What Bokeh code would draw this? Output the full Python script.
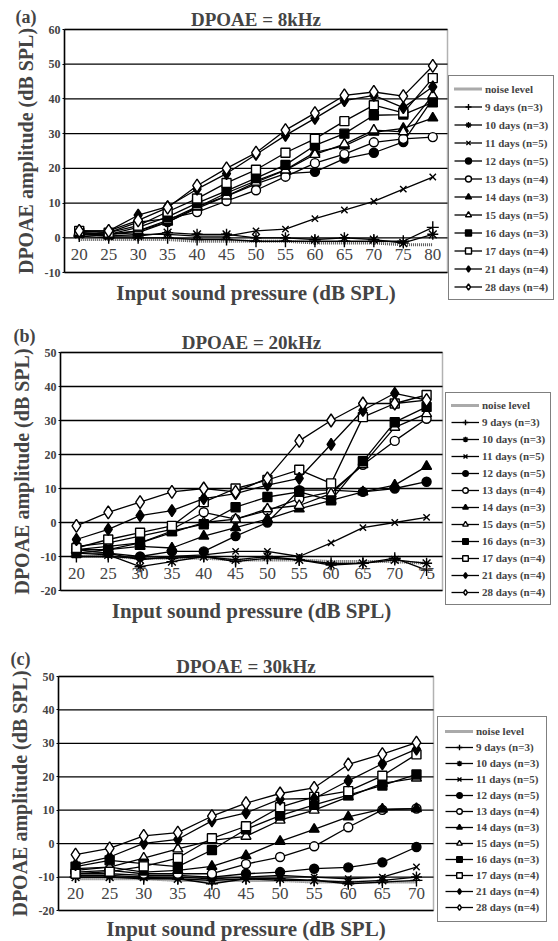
from bokeh.plotting import figure
from bokeh.models import (Legend, LegendItem, FixedTicker, Range1d, LinearAxis,
                          BoxAnnotation, Label)
from bokeh.layouts import column
from bokeh.embed import file_html
from bokeh.resources import INLINE

FONT = "Liberation Serif"

legend_labels = ["noise level", "9 days (n=3)", "10 days (n=3)", "11 days (n=5)",
                 "12 days (n=5)", "13 days (n=4)", "14 days (n=3)", "15 days (n=5)",
                 "16 days (n=3)", "17 days (n=4)", "21 days (n=4)", "28 days (n=4)"]

# ---------------- Panel (a): DPOAE = 8kHz ----------------
a_x = [20, 25, 30, 35, 40, 45, 50, 55, 60, 65, 70, 75, 80]
a_noise = [-0.5, -0.5, -0.5, -0.5, -1, -1, -1, -1, -1.5, -1.5, -1.5, -2, -2]
a_d9 = [0.5, 0, 0, 0, -0.5, -0.5, -1, -1, -1, -1, -1, -1, 3]
a_d10 = [1, 0.5, 0.5, 1.5, 1, 1, 0, 0, -0.5, 0, -0.5, -1.5, 1]
a_d11 = [1, 0.5, 1, 1, 0.5, 0.5, 2, 2.5, 5.5, 8, 10.5, 14, 17.5]
a_d12 = [1.5, 1, 2, 4.5, 8.5, 12, 15.5, 18.5, 19, 22.8, 24.5, 27.6, 40]
a_d13 = [2, 1.5, 4.5, 5.5, 7.4, 10.6, 13.7, 17.6, 21.5, 24.1, 27.5, 28.5, 29]
a_d14 = [1, 1, 1.5, 4.5, 8.8, 12.9, 16.4, 19.6, 24.6, 26.5, 30.4, 31.5, 34.5]
a_d15 = [1.5, 1, 2, 5, 9, 12, 16, 19.5, 24, 27, 31, 30.5, 41]
a_d16 = [1.5, 1, 3, 6, 10, 13.5, 17.2, 21, 26.6, 30, 35.3, 35.5, 39]
a_d17 = [2, 1.5, 3.5, 7.5, 11.3, 15.8, 19.6, 24.5, 28.5, 33.6, 38.2, 36, 46]
a_d21 = [2, 2, 6.5, 9, 14, 18.5, 24, 29.5, 34.4, 39.5, 41, 37.5, 43.5]
a_d28 = [2, 2, 5, 8.7, 15, 20, 24.5, 31, 35.9, 41, 42, 40.8, 49.5]
a_yticks = [-10, 0, 10, 20, 30, 40, 50, 60]

# ---------------- Panel (b): DPOAE = 20kHz ----------------
b_x = [20, 25, 30, 35, 40, 45, 50, 55, 60, 65, 70, 75]
b_noise = [-10, -10, -10.5, -10.5, -10.5, -11, -11, -11, -11.5, -11.5, -11.5, -12]
b_d9 = [-10, -10, -10.5, -10.5, -10, -11.5, -10.5, -11, -12, -12, -10.5, -14]
b_d10 = [-9, -9.5, -13, -11.5, -10, -11, -10, -11, -12.5, -12, -11, -12]
b_d11 = [-9, -9, -11, -10, -9.5, -8.5, -8.5, -10, -6, -1.5, 0, 1.5]
b_d12 = [-8, -9, -10, -8.5, -8.5, -4, 0, 9.5, 9.5, 9, 10, 12]
b_d13 = [-7, -6, -4, -2, 3, 1, 3.5, 7, 9, 17, 24, 30.5]
b_d14 = [-8, -8, -7, -7.5, -4, -1.5, 1, 4, 6.5, 9, 11, 16.5]
b_d15 = [-8, -7, -6, -3, 0, 1, 4, 5, 8.5, 17, 28, 32]
b_d16 = [-9, -8, -6, -2.5, -0.5, 4.5, 7.5, 9, 6.5, 18, 29.5, 34]
b_d17 = [-7.5, -5, -3, -1, 6, 10, 12.5, 15.5, 11.5, 31, 35, 37.5]
b_d21 = [-5, -2, 2, 3.5, 7, 8.5, 11, 13, 23, 33, 38, 36]
b_d28 = [-1, 3, 6, 9, 10, 9, 13, 24, 30, 35, 35, 36]
b_yticks = [-20, -10, 0, 10, 20, 30, 40, 50]

# ---------------- Panel (c): DPOAE = 30kHz ----------------
c_x = [20, 25, 30, 35, 40, 45, 50, 55, 60, 65, 70]
c_noise = [-10.5, -10.5, -10.5, -11, -11, -11, -11, -11.5, -11.5, -11.5, -11.5]
c_d9 = [-10, -10, -10.5, -10.5, -12, -10.5, -11, -11, -12, -11.5, -11]
c_d10 = [-10, -10, -10, -10.5, -11, -10.5, -10.5, -11, -11.5, -11, -10]
c_d11 = [-9.5, -9.5, -10, -10, -10.5, -10, -9.5, -10, -10.5, -10, -7]
c_d12 = [-9, -9, -9.5, -9.5, -10, -9, -8.5, -7.5, -7.1, -5.6, -1]
c_d13 = [-8.5, -8, -9, -9, -9, -6.1, -4, -0.8, 4.9, 10.1, 10.5]
c_d14 = [-7.5, -7, -8.5, -8, -6.8, -3.6, 0.7, 4.3, 8, 10.3, 10.5]
c_d15 = [-8, -7, -4.3, -1.6, 1, 2.2, 7, 10, 14, 18, 19.6]
c_d16 = [-6.9, -5, -6, -6.9, -1.9, 4.3, 8.4, 11.6, 14.5, 17.4, 20.7]
c_d17 = [-9, -8.4, -6.8, -4.3, 1.6, 5.2, 10.9, 14, 15.7, 20.3, 26.7]
c_d21 = [-6.3, -4, 0.1, 1.3, 6.8, 9.2, 13.3, 13.5, 18.8, 23.9, 28.3]
c_d28 = [-3.3, -1.4, 2.3, 3.3, 8.2, 12.1, 15, 16.7, 23.7, 26.8, 30.2]
c_yticks = [-20, -10, 0, 10, 20, 30, 40, 50]

# marker styles for each legend entry (index 0 = noise level line)
MARKERS = [None, "cross", "asterisk", "x", "circle", "circle", "triangle", "triangle",
           "square", "square", "diamond", "diamond"]
FILLS = [None, "black", "black", "black", "black", "white", "black", "white",
         "black", "white", "black", "white"]
SIZES = [0, 12, 11, 9, 9, 9, 10, 10, 9, 9, 12, 13]

W = 558


def panel(tag, title, xs, series, yticks, xfix, H, box, leg, tag_pos,
          tstand, xstand, gh, sp, pad):
    """box = (left, right, top, bottom) of the plot box in canvas pixels;
    the frame covers the whole canvas so that every text can be drawn in it."""
    bl, br, bt, bb = box
    x_lo, x_hi = xs[0] - 2.5, xs[-1] + 2.5
    y_lo, y_hi = yticks[0], yticks[-1]
    xs_per_px = (x_hi - x_lo) / (br - bl)
    ys_per_px = (y_hi - y_lo) / (bb - bt)

    p = figure(width=W, height=H,
               x_range=Range1d(x_lo - bl * xs_per_px, x_hi + (W - br) * xs_per_px),
               y_range=Range1d(y_lo - (H - bb) * ys_per_px, y_hi + bt * ys_per_px),
               output_backend="svg", toolbar_location=None,
               min_border_left=0, min_border_right=0,
               min_border_top=0, min_border_bottom=0)
    p.title.visible = False
    p.background_fill_color = "white"
    p.border_fill_color = "white"
    p.outline_line_color = None
    p.xgrid.visible = False
    p.ygrid.visible = False

    # default axes (grab them before adding any extra axis)
    xax = p.below[0]
    yax = p.left[0]

    # y axis pinned to the box's left edge
    yax.fixed_location = x_lo
    yax.bounds = (y_lo, y_hi)
    yax.ticker = FixedTicker(ticks=yticks)
    yax.major_label_overrides = {t: str(t) for t in yticks}
    yax.axis_label = "DPOAE amplitude (dB SPL)"
    yax.axis_label_text_font = FONT
    yax.axis_label_text_font_size = "20px"
    yax.axis_label_text_font_style = "bold"
    yax.axis_label_standoff = 5
    yax.major_label_text_font = FONT
    yax.major_label_text_font_size = "12px"
    yax.major_label_text_font_style = "bold"
    yax.major_label_standoff = 2
    yax.major_tick_out = 2
    yax.major_tick_in = 0
    yax.minor_tick_line_color = None
    yax.axis_line_color = "black"
    yax.axis_line_width = 1.5

    # category labels drawn inside the box (Excel style)
    xax.ticker = FixedTicker(ticks=xs)
    xax.fixed_location = xfix
    xax.axis_line_color = None
    xax.major_tick_line_color = None
    xax.minor_tick_line_color = None
    xax.major_label_text_font = FONT
    xax.major_label_text_font_size = "17px"
    xax.major_label_standoff = 5

    # chart title: label of a zero-size axis pinned to the box top
    top_axis = LinearAxis(fixed_location=y_hi, bounds=(x_lo, x_hi),
                          ticker=FixedTicker(ticks=[]),
                          axis_line_color=None, major_tick_line_color=None,
                          minor_tick_line_color=None, major_label_text_font_size="0px",
                          axis_label=title, axis_label_text_font=FONT,
                          axis_label_text_font_size="19px",
                          axis_label_text_font_style="bold",
                          axis_label_standoff=tstand)
    p.add_layout(top_axis, "above")

    # x-axis title: label of a zero-size axis pinned to the box bottom
    bot_axis = LinearAxis(fixed_location=y_lo, bounds=(x_lo, x_hi),
                          ticker=FixedTicker(ticks=[]),
                          axis_line_color=None, major_tick_line_color=None,
                          minor_tick_line_color=None, major_label_text_font_size="0px",
                          axis_label="Input sound pressure (dB SPL)",
                          axis_label_text_font=FONT, axis_label_text_font_size="21px",
                          axis_label_text_font_style="bold",
                          axis_label_standoff=xstand)
    p.add_layout(bot_axis, "below")

    # panel tag
    p.add_layout(Label(x=tag_pos[0], y=H - tag_pos[1], x_units="screen",
                       y_units="screen", text=tag, text_font=FONT,
                       text_font_size="18px", text_font_style="bold",
                       text_baseline="middle"))

    # plot box + horizontal grid lines at the y ticks
    n = len(yticks)
    p.segment(x0=[x_lo] * n, x1=[x_hi] * n, y0=yticks, y1=yticks,
              line_color="black", line_width=1.3)
    p.add_layout(BoxAnnotation(left=x_lo, right=x_hi, bottom=y_lo, top=y_hi,
                               fill_alpha=0, line_color="black", line_width=1.5))

    items = []
    for i, ys in enumerate(series):
        if i == 0:
            r = p.line(xs, ys, line_color="#555555", line_width=3, line_dash="1 1")
            items.append(LegendItem(label=legend_labels[0], renderers=[r]))
        else:
            ln = p.line(xs, ys, line_color="black", line_width=1.3)
            sc = p.scatter(xs, ys, marker=MARKERS[i], size=SIZES[i],
                           fill_color=FILLS[i], line_color="black", line_width=1.4)
            items.append(LegendItem(label=legend_labels[i], renderers=[ln, sc]))

    legend = Legend(items=items, location=(leg[0], H - leg[1]), margin=0,
                    padding=pad, spacing=sp, glyph_height=gh, label_height=gh,
                    glyph_width=28, label_standoff=3,
                    label_text_font=FONT, label_text_font_size="11px",
                    label_text_font_style="bold",
                    border_line_color="black", border_line_width=1.5,
                    background_fill_color="white", background_fill_alpha=1)
    p.add_layout(legend)
    return p


pa = panel("(a)", "DPOAE = 8kHz", a_x,
           [a_noise, a_d9, a_d10, a_d11, a_d12, a_d13, a_d14, a_d15, a_d16, a_d17, a_d21, a_d28],
           a_yticks, 0, 312, (64, 447, 29, 272), (448, 300), (15, 16), 0, 8, 15, 3, 5)
pb = panel("(b)", "DPOAE = 20kHz", b_x,
           [b_noise, b_d9, b_d10, b_d11, b_d12, b_d13, b_d14, b_d15, b_d16, b_d17, b_d21, b_d28],
           b_yticks, -10, 328, (60, 442, 40, 278), (445, 293), (13, 23), 0, 8, 14, 3, 5)
pc = panel("(c)", "DPOAE = 30kHz", c_x,
           [c_noise, c_d9, c_d10, c_d11, c_d12, c_d13, c_d14, c_d15, c_d16, c_d17, c_d21, c_d28],
           c_yticks, -10, 301, (58, 433, 36, 270), (437, 282), (10, 18), 0, 6, 14, 2, 7)

layout = column(pa, pb, pc, spacing=0)
open("out.html", "w").write(file_html(layout, INLINE))
